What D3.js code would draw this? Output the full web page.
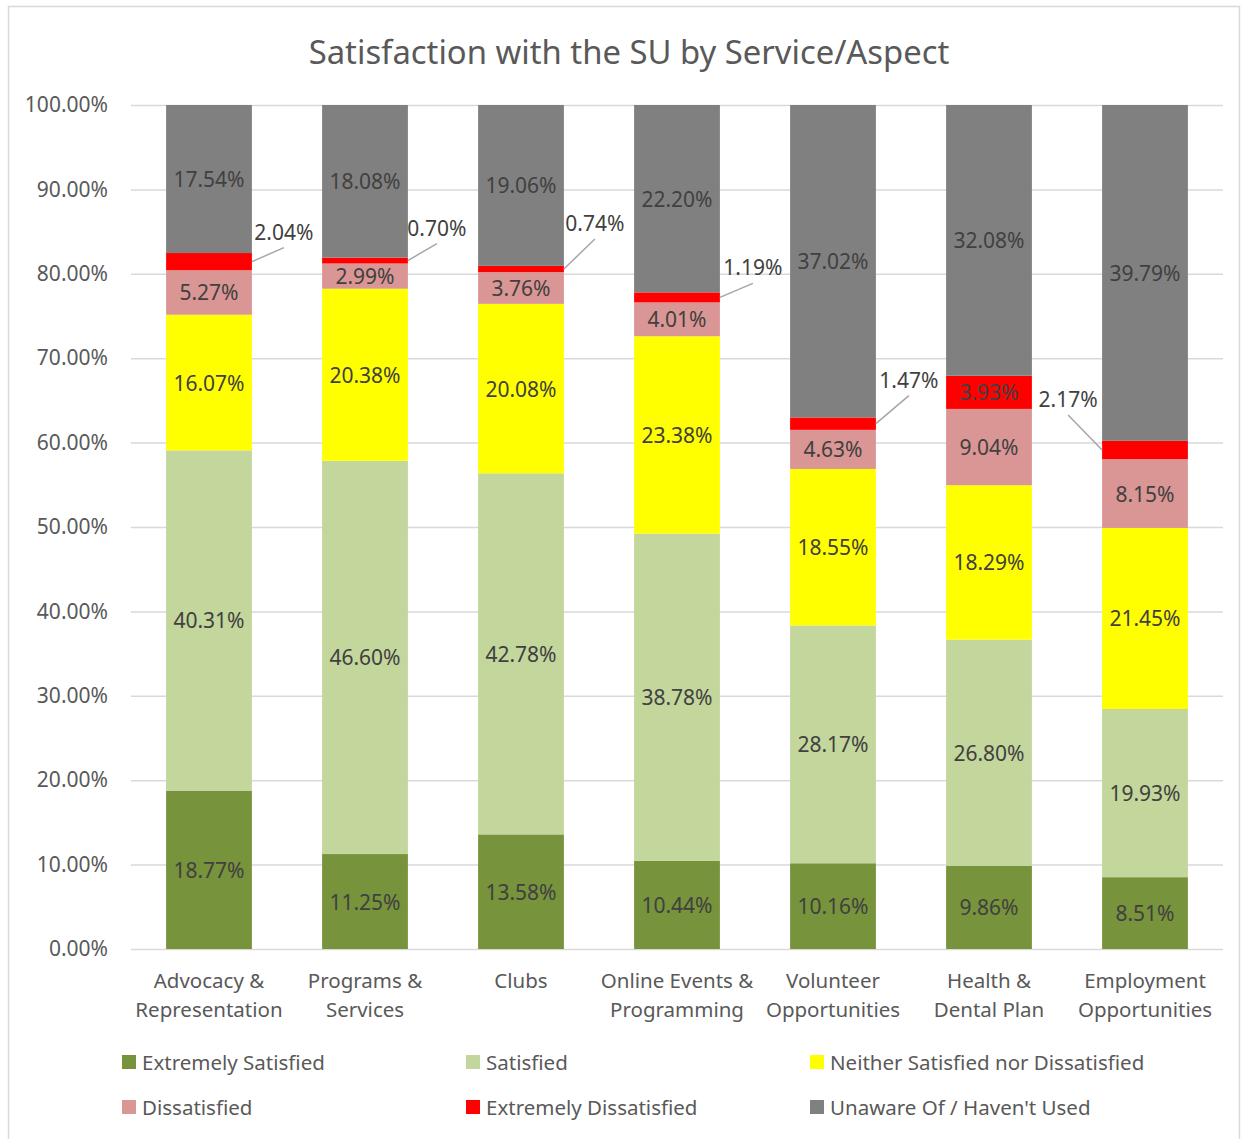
<!DOCTYPE html>
<html>
<head>
<meta charset="utf-8">
<script src="https://cdn.jsdelivr.net/npm/d3@7"></script>
<style>
  body { margin: 0; background: #fff; }
  text { font-family: "Noto Sans", "Open Sans", sans-serif; }
</style>
</head>
<body>
<div id="chart"></div>
<script>
// data
var categories = ["Advocacy & Representation", "Programs & Services", "Clubs", "Online Events & Programming",
                  "Volunteer Opportunities", "Health & Dental Plan", "Employment Opportunities"];
var seriesNames = ["Extremely Satisfied", "Satisfied", "Neither Satisfied nor Dissatisfied",
                   "Dissatisfied", "Extremely Dissatisfied", "Unaware Of / Haven't Used"];
var extremelySatisfied = [18.77, 11.25, 13.58, 10.44, 10.16, 9.86, 8.51];
var satisfied          = [40.31, 46.60, 42.78, 38.78, 28.17, 26.80, 19.93];
var neither            = [16.07, 20.38, 20.08, 23.38, 18.55, 18.29, 21.45];
var dissatisfied       = [5.27, 2.99, 3.76, 4.01, 4.63, 9.04, 8.15];
var extremelyDissat    = [2.04, 0.70, 0.74, 1.19, 1.47, 3.93, 2.17];
var unaware            = [17.54, 18.08, 19.06, 22.20, 37.02, 32.08, 39.79];
var yTicks = [0, 10, 20, 30, 40, 50, 60, 70, 80, 90, 100];

var colors = ["#77933c", "#c3d69b", "#ffff00", "#da9694", "#ff0000", "#808080"];

// callout offsets for the small red slices (label relative to the bar edge), null = label inside
var callouts = [[32, -30], [29, -33], [31, -46], [33, -30], [33, -44], null, [-34, -51]];

var W = 1249, H = 1139;
var plot = {left: 131, right: 1223, top: 105, bottom: 949};

var svg = d3.select("#chart").append("svg")
    .attr("width", W)
    .attr("height", H);

svg.append("rect")
    .attr("x", 8.5).attr("y", 6.5)
    .attr("width", 1231).attr("height", H + 10)
    .attr("fill", "#fff")
    .attr("stroke", "#d9d9d9")
    .attr("stroke-width", 1.5);

// build stacked table
var seriesValues = [extremelySatisfied, satisfied, neither, dissatisfied, extremelyDissat, unaware];
var table = categories.map(function(c, i) {
    var row = {cat: c};
    seriesNames.forEach(function(s, j) { row[s] = seriesValues[j][i]; });
    return row;
});
var stacked = d3.stack().keys(seriesNames)(table);

var x = d3.scaleBand()
    .domain(categories)
    .range([plot.left, plot.right])
    .paddingInner(0.45)
    .paddingOuter(0.225);

var y = d3.scaleLinear()
    .domain([0, 100])
    .range([plot.bottom, plot.top]);

// title
svg.append("text")
    .attr("x", 629)
    .attr("y", 51)
    .attr("text-anchor", "middle")
    .attr("dominant-baseline", "central")
    .style("font-size", "32.8px")
    .style("fill", "#595959")
    .text("Satisfaction with the SU by Service/Aspect");

// gridlines
var grid = svg.append("g")
    .attr("transform", "translate(" + plot.left + ",0)")
    .call(d3.axisLeft(y).tickValues(yTicks).tickSize(-(plot.right - plot.left)).tickFormat(""));
grid.select(".domain").remove();
grid.selectAll("line").attr("stroke", "#d9d9d9").attr("stroke-width", 1.5);

// y labels
var yAxis = svg.append("g")
    .attr("transform", "translate(108,0)")
    .call(d3.axisLeft(y).tickValues(yTicks).tickSize(0).tickPadding(0)
        .tickFormat(function(d) { return d3.format(".2%")(d / 100); }));
yAxis.select(".domain").remove();
yAxis.selectAll("text")
    .style("font-size", "21px")
    .style("font-family", "'Noto Sans', sans-serif")
    .style("fill", "#595959");

// bars
var layer = svg.selectAll(".layer")
    .data(stacked)
    .enter().append("g")
    .attr("class", "layer")
    .attr("fill", function(d, i) { return colors[i]; });

layer.selectAll("rect")
    .data(function(d) { return d; })
    .enter().append("rect")
    .attr("x", function(d) { return x(d.data.cat); })
    .attr("y", function(d) { return y(d[1]); })
    .attr("height", function(d) { return y(d[0]) - y(d[1]); })
    .attr("width", x.bandwidth());

// data labels
var pct = function(v) { return v.toFixed(2) + "%"; };
stacked.forEach(function(s, si) {
    s.forEach(function(d, ci) {
        var v = d[1] - d[0];
        var cx = x(d.data.cat) + x.bandwidth() / 2;
        var cy = y((d[0] + d[1]) / 2);
        if (si === 4 && callouts[ci]) {
            var off = callouts[ci];
            var edge = off[0] > 0 ? x(d.data.cat) + x.bandwidth() : x(d.data.cat);
            var lx = edge + off[0], ly = cy + off[1];
            svg.append("line")
                .attr("x1", edge).attr("y1", cy)
                .attr("x2", lx).attr("y2", ly + 16)
                .attr("stroke", "#a6a6a6")
                .attr("stroke-width", 1.5);
            svg.append("text")
                .attr("x", lx).attr("y", ly)
                .attr("text-anchor", "middle")
                .attr("dominant-baseline", "central")
                .style("font-size", "21px")
                .style("fill", "#404040")
                .text(pct(v));
        } else {
            svg.append("text")
                .attr("x", cx).attr("y", cy)
                .attr("text-anchor", "middle")
                .attr("dominant-baseline", "central")
                .style("font-size", "21px")
                .style("fill", "#404040")
                .text(pct(v));
        }
    });
});

// category labels
categories.forEach(function(c) {
    var lines;
    if (c.indexOf("&") >= 0) {
        var k = c.indexOf("&") + 1;
        lines = [c.slice(0, k), c.slice(k + 1)];
    } else if (c.indexOf(" ") >= 0) {
        var k2 = c.indexOf(" ");
        lines = [c.slice(0, k2), c.slice(k2 + 1)];
    } else {
        lines = [c];
    }
    lines.forEach(function(t, li) {
        svg.append("text")
            .attr("x", x(c) + x.bandwidth() / 2)
            .attr("y", 980 + li * 29)
            .attr("text-anchor", "middle")
            .attr("dominant-baseline", "central")
            .style("font-size", "20.5px")
            .style("fill", "#595959")
            .text(t);
    });
});

// legend
var legend = svg.selectAll(".legend")
    .data(seriesNames)
    .enter().append("g")
    .attr("class", "legend")
    .attr("transform", function(d, i) {
        return "translate(" + (122 + (i % 3) * 344) + "," + (1062 + Math.floor(i / 3) * 45) + ")";
    });

legend.append("rect")
    .attr("x", 0).attr("y", -7)
    .attr("width", 14).attr("height", 14)
    .attr("fill", function(d, i) { return colors[i]; });

legend.append("text")
    .attr("x", 20).attr("y", 0)
    .attr("dominant-baseline", "central")
    .style("font-size", "20.5px")
    .style("fill", "#595959")
    .text(function(d) { return d; });
</script>
</body>
</html>
